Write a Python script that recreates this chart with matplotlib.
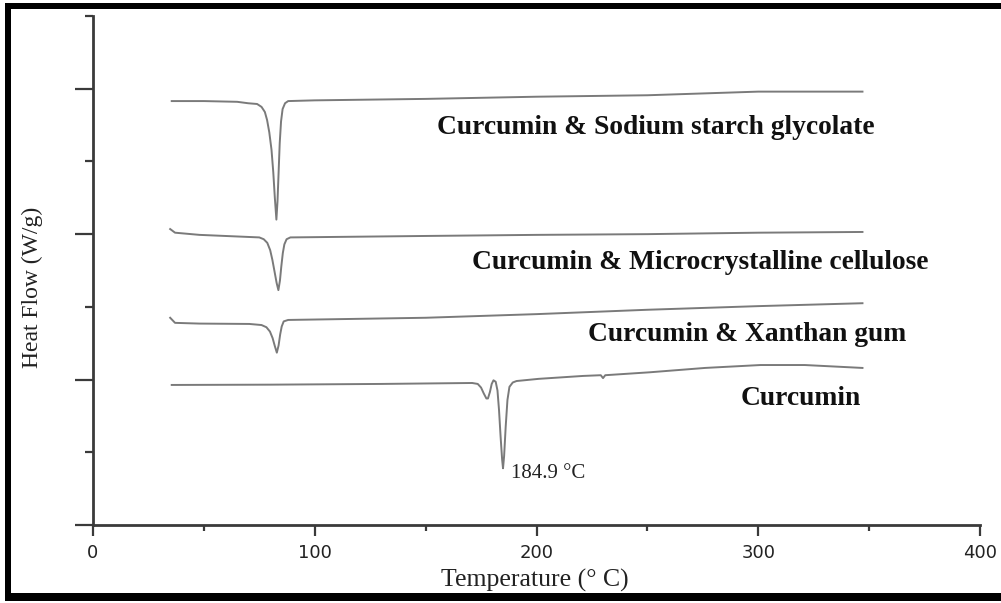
import matplotlib
matplotlib.use("Agg")
import matplotlib.pyplot as plt
from matplotlib.patches import Rectangle
from matplotlib.ticker import MultipleLocator

# DSC thermograms (temperature in deg C, heat flow in arbitrary offset units)
ssg_t = [35.5, 50, 65, 70, 74, 76, 77.5, 78.5, 79.5, 80.5, 81.3, 82, 82.7, 83.2, 83.7, 84.2, 84.8, 85.5, 86.6, 88,
         100, 150, 200, 250, 300, 347]
ssg_y = [5.83, 5.83, 5.82, 5.80, 5.79, 5.75, 5.68, 5.57, 5.40, 5.16, 4.85, 4.50, 4.20, 4.45, 4.85, 5.25, 5.55, 5.72, 5.80, 5.83,
         5.84, 5.86, 5.89, 5.91, 5.96, 5.96]

mcc_t = [34.8, 37, 48, 75, 77, 78.6, 79.9, 80.9, 81.9, 82.8, 83.6, 84.3, 84.9, 85.6, 86.3, 87.3, 89,
         150, 200, 250, 300, 347]
mcc_y = [4.07, 4.02, 3.99, 3.955, 3.93, 3.88, 3.78, 3.645, 3.48, 3.33, 3.23, 3.36, 3.55, 3.74, 3.86, 3.93, 3.955,
         3.975, 3.99, 4.0, 4.02, 4.03]

xan_t = [34.8, 37, 48, 70.5, 76, 78.2, 79.8, 81, 82, 82.9, 83.7, 84.4, 85.1, 86, 88,
         150, 200, 250, 300, 347]
xan_y = [2.85, 2.78, 2.77, 2.765, 2.75, 2.72, 2.66, 2.57, 2.46, 2.37, 2.47, 2.62, 2.73, 2.80, 2.82,
         2.85, 2.90, 2.96, 3.01, 3.05]

cur_t = [35.5, 80, 130, 171, 173.5, 175, 176.2, 177.4, 178.1, 179, 179.8, 180.6, 181.6, 182.4, 183.1, 183.8, 184.5,
         184.9, 185.4, 186.1, 186.9, 187.8, 189.3, 191, 201, 221, 229, 230, 231, 251, 276, 301, 321, 347]
cur_y = [1.926, 1.93, 1.94, 1.953, 1.94, 1.89, 1.81, 1.74, 1.74, 1.83, 1.94, 1.99, 1.97, 1.85, 1.58, 1.22, 0.90,
         0.78, 0.95, 1.35, 1.72, 1.90, 1.96, 1.98, 2.01, 2.05, 2.06, 2.02, 2.06, 2.10, 2.16, 2.20, 2.20, 2.16]

curves = [(ssg_t, ssg_y), (mcc_t, mcc_y), (xan_t, xan_y), (cur_t, cur_y)]

labels = ["Curcumin & Sodium starch glycolate",
          "Curcumin & Microcrystalline cellulose",
          "Curcumin & Xanthan gum",
          "Curcumin"]
label_pos = [(155.1, 5.47), (170.9, 3.61), (223.2, 2.62), (292.2, 1.74)]

peak_label = "184.9 °C"
peak_pos = (188.5, 0.71)

line_col = "#7a7a7a"
axis_col = "#3a3a3a"
serif = ["Liberation Serif", "DejaVu Serif"]

fig = plt.figure(figsize=(10.01, 6.03), dpi=100)
ax = fig.add_axes([93 / 1001, 1 - 525 / 603, (980 - 93) / 1001, (525 - 16) / 603])

for t, y in curves:
    ax.plot(t, y, color=line_col, lw=1.4, solid_joinstyle="round")

for text, (x, y) in zip(labels, label_pos):
    ax.text(x, y, text, fontsize=19.8, fontweight="bold", family=serif, ha="left", va="center", color="#111111")
ax.text(peak_pos[0], peak_pos[1], peak_label, fontsize=15, family=serif, ha="left", va="center", color="#222222")

ax.set_xlim(0, 400)
ax.set_ylim(0, 7)
ax.xaxis.set_major_locator(MultipleLocator(100))
ax.xaxis.set_minor_locator(MultipleLocator(50))
ax.yaxis.set_major_locator(MultipleLocator(2))
ax.yaxis.set_minor_locator(MultipleLocator(1))

for side in ["top", "right"]:
    ax.spines[side].set_visible(False)
for side in ["left", "bottom"]:
    ax.spines[side].set_color(axis_col)
    ax.spines[side].set_linewidth(2)

ax.tick_params(axis="x", which="major", length=8, width=1.6, color=axis_col, labelsize=13, pad=6)
ax.tick_params(axis="x", which="minor", length=4, width=1.6, color=axis_col)
ax.tick_params(axis="y", which="major", length=13, width=1.6, color=axis_col)
ax.tick_params(axis="y", which="minor", length=6, width=1.6, color=axis_col)
ax.tick_params(axis="y", which="both", labelleft=False)
for lab in ax.get_xticklabels():
    lab.set_family("DejaVu Sans")
    lab.set_color("#222222")

fig.text(535 / 1001, 1 - 580 / 603, "Temperature (° C)", fontsize=18.5, family=serif, ha="center", va="center", color="#222222")
fig.text(32 / 1001, 1 - 287 / 603, "Heat Flow (W/g)", fontsize=17, family=serif, rotation=90, ha="center", va="center", color="#222222")

# black frame bars round the picture (left, top, bottom), in pixels
for x0, y0, w, h in [(5, 3, 6, 597), (5, 3, 996, 6), (5, 593, 996, 8)]:
    fig.add_artist(Rectangle((x0 / 1001, 1 - (y0 + h) / 603), w / 1001, h / 603,
                             transform=fig.transFigure, color="black", lw=0))

fig.savefig("out.png", dpi=100)
plt.close(fig)
